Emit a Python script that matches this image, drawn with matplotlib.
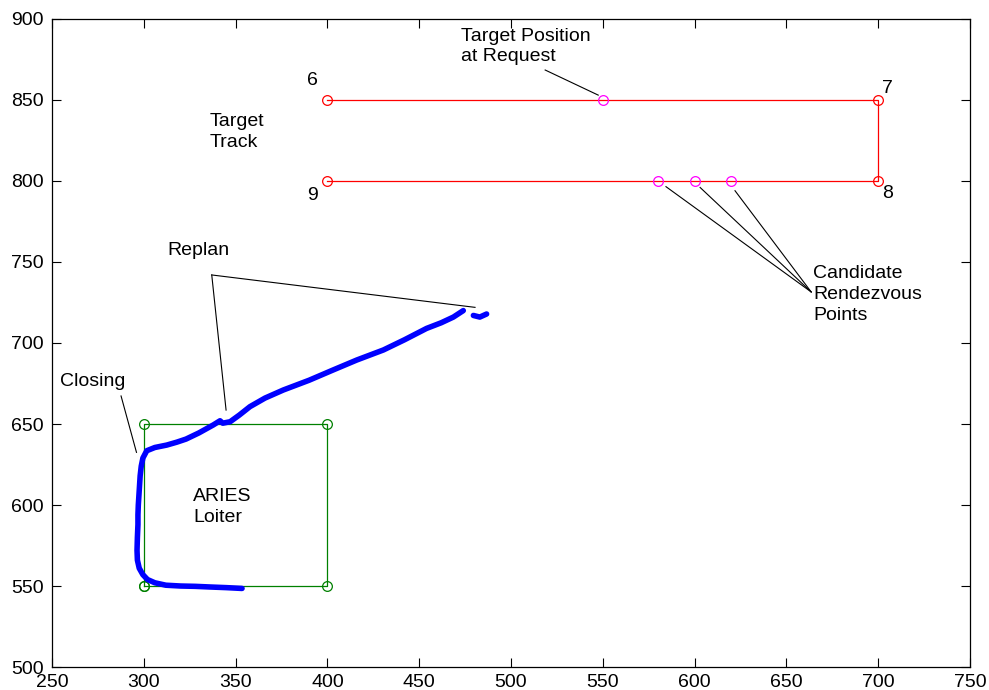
import matplotlib
matplotlib.use("Agg")
import matplotlib.pyplot as plt

plt.rcParams['font.family'] = ['Liberation Sans', 'DejaVu Sans']

# ARIES track (blue)
track_x = [353.5, 345, 336, 328, 320, 312, 306, 302, 299.5, 297.5, 296.5, 296.3, 296.5, 296.8, 296.8, 297, 297.5, 298, 298.6,
           299.5, 301.6, 306, 312.5, 318, 323, 330, 337.8, 341.5, 343, 347, 352, 357.8, 366, 376, 390, 403, 416, 430.5,
           442, 454, 462, 468.6, 474]
track_y = [548.5, 549, 549.4, 549.8, 550, 550.5, 552, 554, 557, 561, 566, 572, 580, 588, 594, 600, 609, 618, 624,
           629, 633.5, 635.5, 637, 638.8, 640.7, 644.5, 649.4, 652, 650.5, 651.4, 655.5, 660.7, 666, 671, 677, 683.3, 689.5, 695.7,
           702, 709, 712.5, 716, 720]
frag_x = [479.5, 483, 486.7]
frag_y = [717, 716, 717.9]

# Loiter box (green)
loiter_x = [300, 300, 400, 400, 300]
loiter_y = [550, 650, 650, 550, 550]

# Target track (red)
target_x = [400, 700, 700, 400]
target_y = [850, 850, 800, 800]
target_labels = ['6', '7', '8', '9']

# Target position at request and candidate rendezvous points (magenta)
request_pt = (550, 850)
cand_x = [580, 600, 620]
cand_y = [800, 800, 800]

fig = plt.figure(figsize=(9.89, 6.90), dpi=100)
ax = fig.add_axes([0.0526, 0.0333, 0.9282, 0.9392])

ax.plot(target_x, target_y, color='red', lw=0.9, marker='o', mfc='none', mec='red', ms=7, mew=0.9)
ax.plot(loiter_x, loiter_y, color='green', lw=0.9, marker='o', mfc='none', mec='green', ms=7, mew=0.9)
ax.plot([request_pt[0]] + cand_x, [request_pt[1]] + cand_y, ls='none', marker='o', mfc='none', mec='magenta',
        ms=7, mew=0.9)
ax.plot(track_x, track_y, color='blue', lw=4, solid_capstyle='round', solid_joinstyle='round')
ax.plot(frag_x, frag_y, color='blue', lw=4, solid_capstyle='round')

fs = 14
ls = 1.3
label_pos = [(389, 862), (702, 857), (702, 792), (389, 791)]
for (lx, ly), t in zip(label_pos, target_labels):
    ax.text(lx, ly, t, fontsize=fs, ha='left', va='center')

ax.text(336, 830, 'Target\nTrack', fontsize=fs, ha='left', va='center', linespacing=ls)
ax.text(473, 883, 'Target Position\nat Request', fontsize=fs, ha='left', va='center', linespacing=ls)
ax.plot([518.6, 547.5], [868.5, 853], color='black', lw=0.8)

ax.text(312.6, 757, 'Replan', fontsize=fs, ha='left', va='center')
ax.plot([337, 344.8], [742, 658.6], color='black', lw=0.8)
ax.plot([337, 480.4], [742, 722], color='black', lw=0.8)

ax.text(254.4, 676.5, 'Closing', fontsize=fs, ha='left', va='center')
ax.plot([287.6, 296], [667.3, 632.5], color='black', lw=0.8)

ax.text(326.8, 599, 'ARIES\nLoiter', fontsize=fs, ha='left', va='center', linespacing=ls)

ax.text(664.5, 730, 'Candidate\nRendezvous\nPoints', fontsize=fs, ha='left', va='center', linespacing=ls)
for sx, sy in [(584.4, 796.5), (603, 796), (622, 794)]:
    ax.plot([sx, 663.5], [sy, 731.5], color='black', lw=0.8)

ax.set_xlim(250, 750)
ax.set_ylim(500, 900)
ax.set_xticks(range(250, 751, 50))
ax.set_yticks(range(500, 901, 50))
ax.tick_params(direction='in', length=6.5, width=0.8, top=True, right=True, labelsize=fs, pad=6)
ax.tick_params(axis='x', pad=5)
for s in ax.spines.values():
    s.set_linewidth(0.9)

fig.savefig('out.png', dpi=100)
